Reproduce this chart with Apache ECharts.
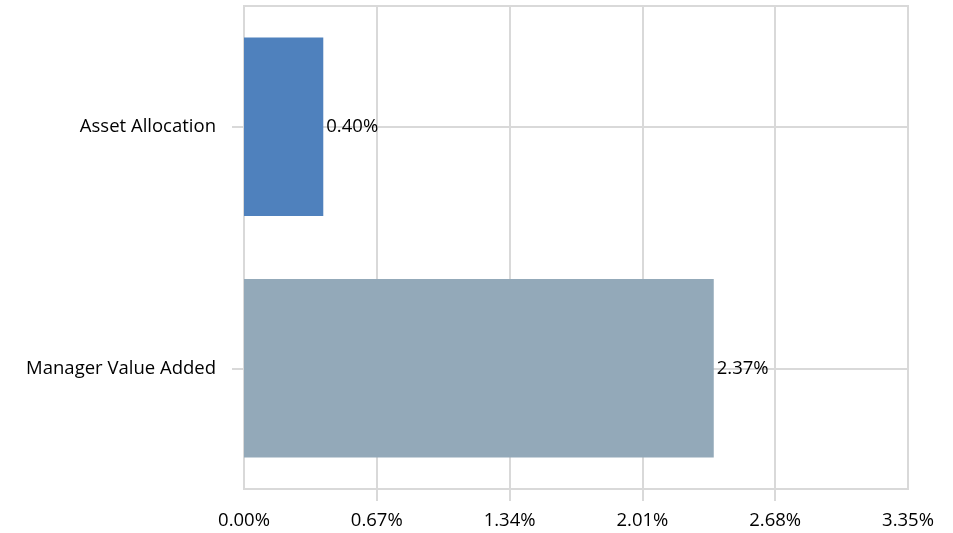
<!DOCTYPE html>
<html>
<head>
<meta charset="utf-8">
<script src="https://cdn.jsdelivr.net/npm/echarts@6/dist/echarts.min.js"></script>
<style>html,body{margin:0;padding:0;background:#fff}#c{width:953px;height:533px}</style>
</head>
<body>
<div id="c"></div>
<script>
const categories = ['Asset Allocation', 'Manager Value Added'];
const values = [0.40, 2.37];
const xTicks = [0, 0.67, 1.34, 2.01, 2.68, 3.35];

const palette = ['#4f81bd', '#93a9b9'];
const gridColor = '#d9d9d9';
const font = '"Open Sans", sans-serif';
const fs = 18.5;

const chart = echarts.init(document.getElementById('c'));
chart.setOption({
  animation: false,
  grid: { left: 244, right: 45, top: 6, bottom: 44, show: true, borderColor: gridColor, borderWidth: 2 },
  xAxis: {
    type: 'value',
    min: xTicks[0], max: xTicks[xTicks.length - 1], interval: 0.67,
    axisLine: { show: true, lineStyle: { color: gridColor, width: 2 } },
    axisTick: { show: true, length: 12, customValues: xTicks.slice(1, -1), lineStyle: { color: gridColor, width: 2 } },
    splitLine: { show: true, lineStyle: { color: gridColor, width: 2 } },
    axisLabel: { customValues: xTicks, margin: 22, color: '#000', fontSize: fs, fontFamily: font,
      formatter: v => v.toFixed(2) + '%' }
  },
  yAxis: [{
    type: 'category', data: categories, inverse: true, position: 'left',
    axisLine: { show: true, lineStyle: { color: gridColor, width: 2 } },
    axisTick: { show: true, alignWithLabel: true, length: 12, lineStyle: { color: gridColor, width: 2 } },
    splitLine: { show: false },
    axisLabel: { margin: 28, color: '#000', fontSize: fs, fontFamily: font }
  }, {
    type: 'category', data: categories, inverse: true, position: 'left',
    axisLine: { show: false },
    axisTick: { show: true, inside: true, alignWithLabel: true, length: 664, lineStyle: { color: gridColor, width: 2 } },
    splitLine: { show: false },
    axisLabel: { show: false }
  }],
  series: [{
    type: 'bar', yAxisIndex: 0, data: values, barCategoryGap: '26%',
    itemStyle: { color: p => palette[p.dataIndex] },
    label: { show: true, position: 'right', distance: 3, color: '#000', fontSize: fs, fontFamily: font,
      formatter: p => p.value.toFixed(2) + '%' }
  }]
});
</script>
</body>
</html>
